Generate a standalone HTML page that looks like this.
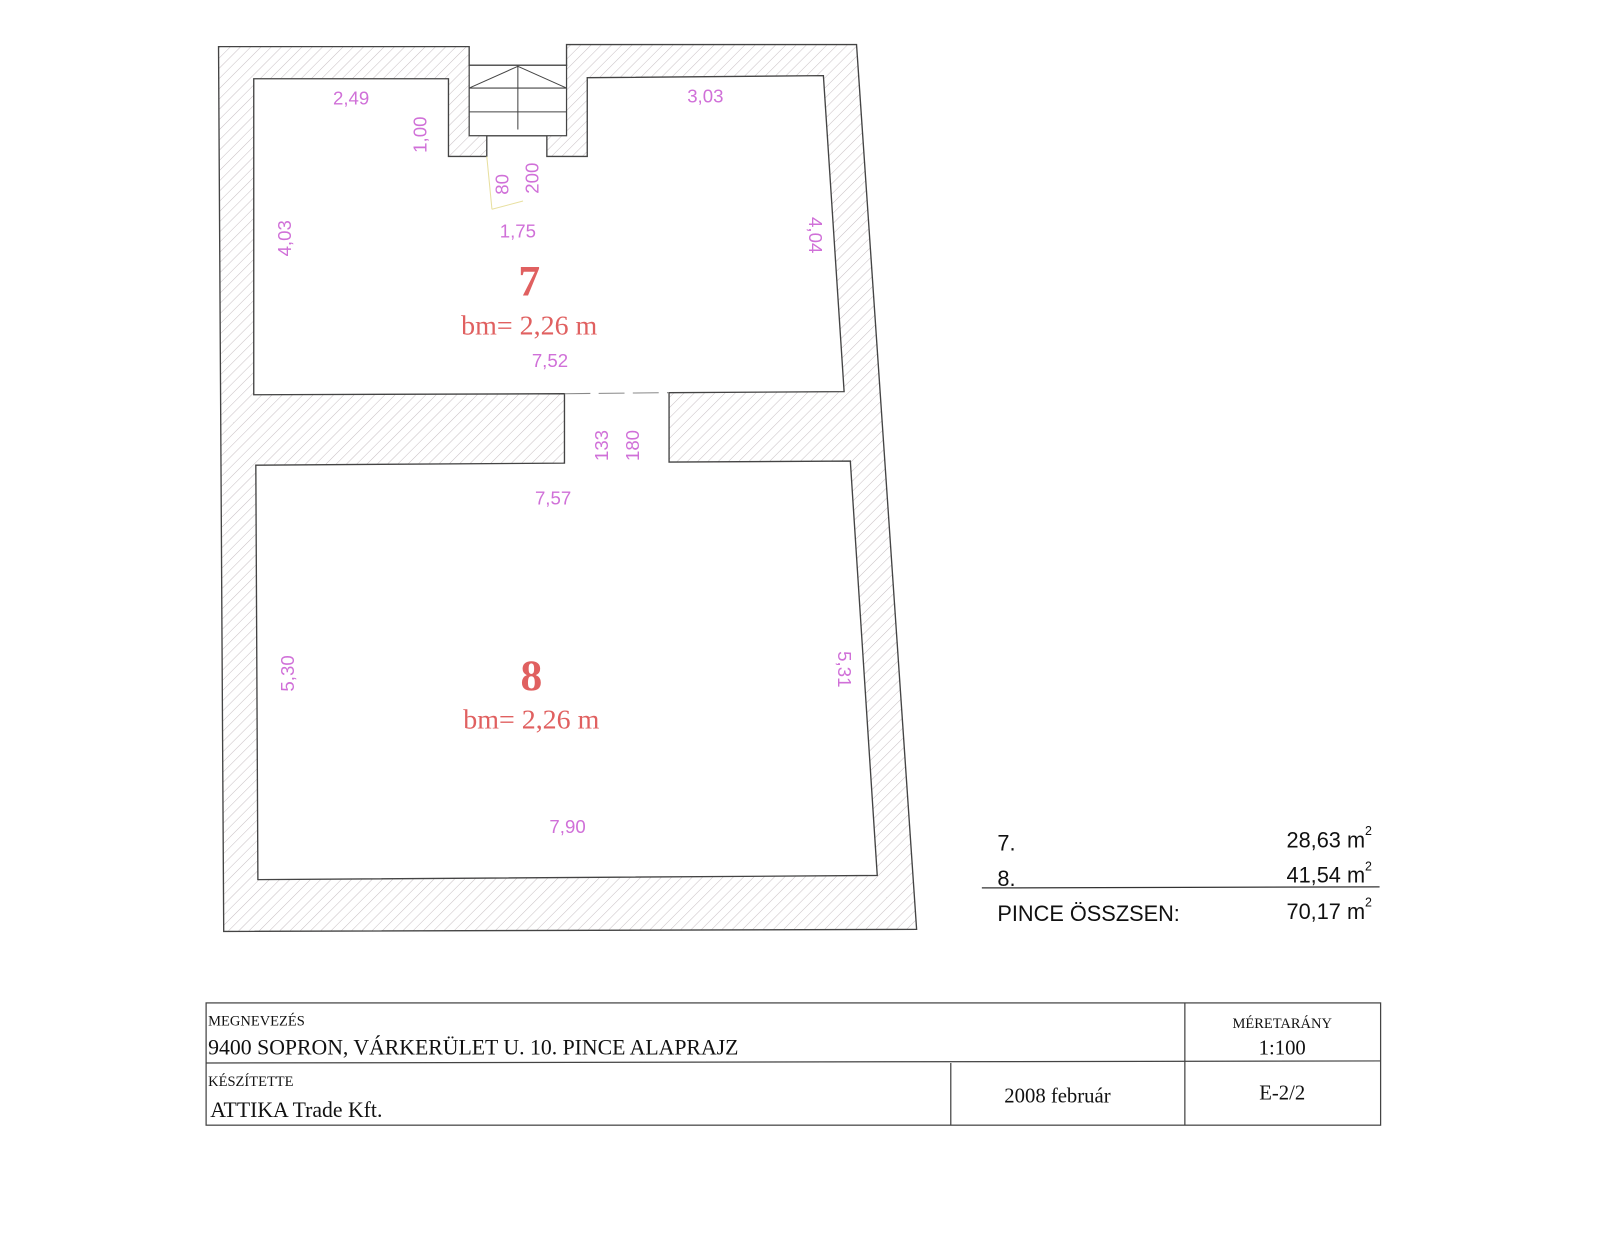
<!DOCTYPE html>
<html><head><meta charset="utf-8"><style>
html,body{margin:0;padding:0;background:#fff;}
svg{display:block;}
.d{font-family:"Liberation Sans",sans-serif;font-size:18px;fill:#d070d8;}
.r{font-family:"Liberation Serif",serif;fill:#e06060;}
.t{font-family:"Liberation Serif",serif;fill:#111;}
.a{font-family:"Liberation Sans",sans-serif;font-size:21px;fill:#111;}
.s{font-family:"Liberation Sans",sans-serif;font-size:12px;fill:#111;}
</style></head><body>
<svg width="1624" height="1235" viewBox="0 0 1568 1192" preserveAspectRatio="none" xmlns="http://www.w3.org/2000/svg">
<defs>
<pattern id="h" width="7" height="7" patternUnits="userSpaceOnUse" patternTransform="rotate(45)">
<line x1="0" y1="0" x2="0" y2="7" stroke="#c8c0c4" stroke-width="1"/>
</pattern>
</defs>
<path fill="url(#h)" fill-rule="evenodd" stroke="#444" stroke-width="1.3"
d="M211,45 L453,45 L453,63 L547,63 L547,43 L827,43 L885,897 L216,899 Z
M245,76 L433,76 L433,151 L470,151 L470,131 L528,131 L528,151 L567,151 L567,75 L795,73 L815,378 L646,379 L646,446 L821,445 L847,845 L249,849 L247,449 L545,447 L545,380 L245,381 Z"/>
<line x1="545" y1="380" x2="646" y2="379" stroke="#888" stroke-width="1" stroke-dasharray="25,8"/>
<rect x="453" y="63" width="94" height="68" fill="#fff" stroke="#444" stroke-width="1.2"/>
<line x1="453" y1="85" x2="547" y2="85" stroke="#444"/>
<line x1="453" y1="108" x2="547" y2="108" stroke="#444"/>
<line x1="500" y1="63" x2="500" y2="125" stroke="#444"/>
<line x1="500" y1="64" x2="453" y2="85" stroke="#444"/>
<line x1="500" y1="64" x2="547" y2="85" stroke="#444"/>
<line x1="470" y1="151" x2="475" y2="202" stroke="#e8e0a0"/>
<line x1="475" y1="202" x2="505" y2="194" stroke="#e8e0a0"/>
<text class="d" x="339" y="101" text-anchor="middle">2,49</text>
<text class="d" x="681" y="99" text-anchor="middle">3,03</text>
<text class="d" x="500" y="229" text-anchor="middle">1,75</text>
<text class="d" x="531" y="354" text-anchor="middle">7,52</text>
<text class="d" x="534" y="487" text-anchor="middle">7,57</text>
<text class="d" x="548" y="804" text-anchor="middle">7,90</text>
<text class="d" transform="translate(412,130) rotate(-90)" text-anchor="middle">1,00</text>
<text class="d" transform="translate(491,178) rotate(-90)" text-anchor="middle">80</text>
<text class="d" transform="translate(520,172) rotate(-90)" text-anchor="middle">200</text>
<text class="d" transform="translate(281,230) rotate(-90)" text-anchor="middle">4,03</text>
<text class="d" transform="translate(781,227) rotate(90)" text-anchor="middle">4,04</text>
<text class="d" transform="translate(284,650) rotate(-90)" text-anchor="middle">5,30</text>
<text class="d" transform="translate(809,646) rotate(90)" text-anchor="middle">5,31</text>
<text class="d" transform="translate(587,430) rotate(-90)" text-anchor="middle">133</text>
<text class="d" transform="translate(617,430) rotate(-90)" text-anchor="middle">180</text>
<text class="r" x="511" y="285" text-anchor="middle" font-size="42" font-weight="bold">7</text>
<text class="r" x="511" y="323" text-anchor="middle" font-size="27">bm= 2,26 m</text>
<text class="r" x="513" y="666" text-anchor="middle" font-size="42" font-weight="bold">8</text>
<text class="r" x="513" y="703" text-anchor="middle" font-size="27">bm= 2,26 m</text>
<text class="a" x="963" y="821">7.</text>
<text class="a" x="1318" y="818" text-anchor="end">28,63 m</text><text class="s" x="1318" y="806">2</text>
<text class="a" x="963" y="855">8.</text>
<text class="a" x="1318" y="852" text-anchor="end">41,54 m</text><text class="s" x="1318" y="840">2</text>
<line x1="948" y1="857" x2="1332" y2="856" stroke="#333" stroke-width="1.2"/>
<text class="a" x="963" y="889">PINCE ÖSSZSEN:</text>
<text class="a" x="1318" y="887" text-anchor="end">70,17 m</text><text class="s" x="1318" y="875">2</text>
<rect x="199" y="968" width="1134" height="118" fill="none" stroke="#444" stroke-width="1.2"/>
<line x1="199" y1="1026" x2="1333" y2="1024" stroke="#444" stroke-width="1.2"/>
<line x1="1144" y1="968" x2="1144" y2="1086" stroke="#444" stroke-width="1.2"/>
<line x1="918" y1="1026" x2="918" y2="1086" stroke="#444" stroke-width="1.2"/>
<text class="t" x="201" y="990" font-size="14">MEGNEVEZÉS</text>
<text class="t" x="201" y="1018" font-size="21">9400 SOPRON, VÁRKERÜLET U. 10. PINCE  ALAPRAJZ</text>
<text class="t" x="201" y="1048" font-size="14">KÉSZÍTETTE</text>
<text class="t" x="203" y="1078" font-size="21">ATTIKA Trade Kft.</text>
<text class="t" x="1021" y="1064" font-size="20" text-anchor="middle">2008 február</text>
<text class="t" x="1238" y="992" font-size="14" text-anchor="middle">MÉRETARÁNY</text>
<text class="t" x="1238" y="1018" font-size="20" text-anchor="middle">1:100</text>
<text class="t" x="1238" y="1061" font-size="20" text-anchor="middle">E-2/2</text>
</svg>
</body></html>
